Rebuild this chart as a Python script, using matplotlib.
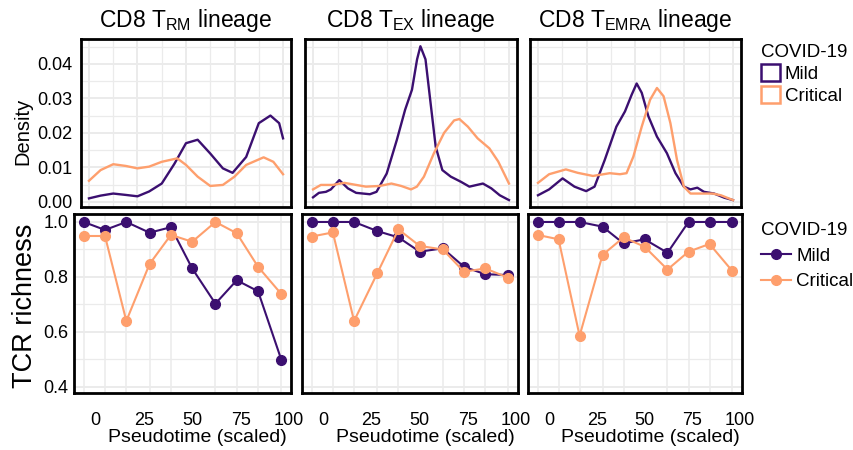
#!/usr/bin/env python3
"""
TCR density and richness along pseudotime for three CD8 lineages
"""
import numpy as np
import matplotlib
matplotlib.use('Agg')
import matplotlib.pyplot as plt
from matplotlib.patches import Patch
from matplotlib.lines import Line2D

plt.rcParams['font.family'] = ['Liberation Sans', 'DejaVu Sans']
plt.rcParams['mathtext.fontset'] = 'custom'
plt.rcParams['mathtext.rm'] = 'Liberation Sans'
plt.rcParams['mathtext.it'] = 'Liberation Sans'

MILD_COLOR = '#3B0F70'
CRIT_COLOR = '#FE9F6D'
GRID_COLOR = '#ebebeb'

titles = ['CD8 T$_{\\mathrm{RM}}$ lineage', 'CD8 T$_{\\mathrm{EX}}$ lineage', 'CD8 T$_{\\mathrm{EMRA}}$ lineage']
groups = ['Mild', 'Critical']

# density curves (pseudotime, density)
rm_mild_x = [0, 6, 12.5, 19, 25, 31, 37.5, 44, 50, 56, 62.5, 69, 74, 81, 87.5, 93.5, 98, 100]
rm_mild_y = [0.0010, 0.0018, 0.0024, 0.0020, 0.0016, 0.0030, 0.0053, 0.0110, 0.0170, 0.0180, 0.0140, 0.0097, 0.0084, 0.0130, 0.0228, 0.0250, 0.0228, 0.0184]
rm_crit_x = [0, 6, 12.5, 19, 25, 31, 37.5, 45.5, 50, 56, 62.5, 69, 75, 81, 90, 95, 100]
rm_crit_y = [0.0061, 0.0092, 0.0109, 0.0104, 0.0097, 0.0102, 0.0116, 0.0126, 0.0107, 0.0073, 0.0046, 0.0049, 0.0073, 0.0107, 0.0129, 0.0116, 0.0080]

ex_mild_x = [0, 3, 6.6, 9.1, 13.4, 17.8, 22, 29, 32.4, 37.6, 42.8, 47, 50.5, 53.1, 54.8, 57.4, 60, 62.6, 66, 70.3, 75.5, 79.8, 86.7, 91, 95.3, 100]
ex_mild_y = [0.0013, 0.0026, 0.0029, 0.0036, 0.0063, 0.0039, 0.0026, 0.0022, 0.0029, 0.0082, 0.0180, 0.0267, 0.0325, 0.0413, 0.0451, 0.0413, 0.0286, 0.0160, 0.0092, 0.0073, 0.0058, 0.0044, 0.0053, 0.0039, 0.0019, 0.0005]
ex_crit_x = [0, 4, 10, 16, 22, 27, 34, 40, 45, 50, 53, 56.6, 61.7, 66.9, 72, 74.7, 79, 84, 90, 94.5, 100]
ex_crit_y = [0.0036, 0.0049, 0.0049, 0.0055, 0.0049, 0.0044, 0.0046, 0.0053, 0.0046, 0.0036, 0.0044, 0.0073, 0.0141, 0.0200, 0.0236, 0.0240, 0.0218, 0.0184, 0.0155, 0.0117, 0.0053]

emra_mild_x = [0, 5.7, 12.6, 18.7, 24.7, 29, 34.2, 40.2, 44.6, 48, 50.6, 53.2, 56.6, 61, 66.1, 70.5, 74.8, 78.2, 81.7, 85.1, 90.3, 95.5, 100]
emra_mild_y = [0.0019, 0.0036, 0.0068, 0.0044, 0.0031, 0.0044, 0.0121, 0.0218, 0.0262, 0.0310, 0.0343, 0.0316, 0.0248, 0.0189, 0.0141, 0.0083, 0.0044, 0.0036, 0.0041, 0.0029, 0.0024, 0.0012, 0.0005]
emra_crit_x = [0, 5.7, 14.3, 20.4, 28.2, 36.8, 42, 45.4, 48.9, 53.2, 57.5, 61, 64.4, 67.9, 71.3, 74.8, 78.2, 83.4, 89.5, 93.8, 100]
emra_crit_y = [0.0055, 0.0080, 0.0094, 0.0084, 0.0075, 0.0083, 0.0080, 0.0083, 0.0131, 0.0218, 0.0296, 0.0330, 0.0306, 0.0228, 0.0121, 0.0044, 0.0024, 0.0024, 0.0024, 0.0019, 0.0005]

density = [
    ((rm_mild_x, rm_mild_y), (rm_crit_x, rm_crit_y)),
    ((ex_mild_x, ex_mild_y), (ex_crit_x, ex_crit_y)),
    ((emra_mild_x, emra_mild_y), (emra_crit_x, emra_crit_y)),
]

# TCR richness per pseudotime bin
bin_pos = [-6, 5, 16, 28, 39, 50, 62, 73, 84, 96]
rm_mild_rich = [1.00, 0.971, 1.00, 0.961, 0.981, 0.831, 0.703, 0.788, 0.748, 0.499]
rm_crit_rich = [0.949, 0.949, 0.640, 0.847, 0.953, 0.928, 1.00, 0.959, 0.837, 0.738]
ex_mild_rich = [1.00, 1.00, 1.00, 0.967, 0.944, 0.892, 0.904, 0.837, 0.810, 0.807]
ex_crit_rich = [0.947, 0.962, 0.640, 0.813, 0.973, 0.913, 0.900, 0.819, 0.831, 0.797]
emra_mild_rich = [1.00, 1.00, 1.00, 0.983, 0.922, 0.937, 0.888, 1.00, 1.00, 1.00]
emra_crit_rich = [0.953, 0.937, 0.586, 0.880, 0.944, 0.910, 0.827, 0.892, 0.920, 0.821]

richness = [
    (rm_mild_rich, rm_crit_rich),
    (ex_mild_rich, ex_crit_rich),
    (emra_mild_rich, emra_crit_rich),
]

x_ticks = [0, 25, 50, 75, 100]

W, H = 854, 450
fig = plt.figure(figsize=(W / 100, H / 100), dpi=100)


def px_axes(x0, y0, x1, y1):
    return fig.add_axes([x0 / W, 1 - y1 / H, (x1 - x0) / W, (y1 - y0) / H])


def style_frame(ax):
    for s in ax.spines.values():
        s.set_linewidth(2.0)
        s.set_color('black')
    ax.set_facecolor('white')
    ax.set_axisbelow(True)
    ax.tick_params(which='both', length=0, labelsize=13, colors='black')


top_boxes = [(81, 39, 291, 207), (305, 39, 517, 207), (530, 39, 741, 207)]
bot_boxes = [(74, 214, 291, 393), (302, 214, 518, 393), (528, 214, 742, 393)]

for i in range(3):
    # density panel
    ax = px_axes(*top_boxes[i])
    style_frame(ax)
    (mx, my), (cx, cy) = density[i]
    ax.plot(mx, my, color=MILD_COLOR, lw=1.7, solid_joinstyle='round')
    ax.plot(cx, cy, color=CRIT_COLOR, lw=1.7, solid_joinstyle='round')
    ax.set_xlim(-4.1, 104.1)
    ax.set_ylim(-0.0015, 0.0472)
    ax.set_xticks(x_ticks)
    ax.set_xticks([12.5, 37.5, 62.5, 87.5], minor=True)
    ax.set_yticks([0, 0.01, 0.02, 0.03, 0.04])
    ax.set_yticks([0.005, 0.015, 0.025, 0.035, 0.045], minor=True)
    ax.grid(True, which='major', color=GRID_COLOR, lw=1.4)
    ax.grid(True, which='minor', color=GRID_COLOR, lw=0.9)
    ax.set_xticklabels([])
    if i == 0:
        ax.set_yticklabels(['0.00', '0.01', '0.02', '0.03', '0.04'])
        ax.tick_params(axis='y', pad=6)
    else:
        ax.set_yticklabels([])
    cx_px = (top_boxes[i][0] + top_boxes[i][2]) / 2
    fig.text(cx_px / W, 1 - 21 / H, titles[i], ha='center', va='center', fontsize=16.5)

    # richness panel
    ax2 = px_axes(*bot_boxes[i])
    style_frame(ax2)
    m_r, c_r = richness[i]
    ax2.plot(bin_pos, m_r, color=MILD_COLOR, lw=1.5, marker='o', ms=7)
    ax2.plot(bin_pos, c_r, color=CRIT_COLOR, lw=1.5, marker='o', ms=7)
    ax2.set_xlim(-11, 101)
    ax2.set_ylim(0.378, 1.029)
    ax2.set_xticks(x_ticks)
    ax2.set_xticks(bin_pos, minor=True)
    ax2.set_yticks([0.4, 0.6, 0.8, 1.0])
    ax2.set_yticks([0.5, 0.7, 0.9], minor=True)
    ax2.grid(True, axis='y', which='major', color=GRID_COLOR, lw=1.4)
    ax2.grid(True, axis='y', which='minor', color=GRID_COLOR, lw=0.9)
    ax2.grid(True, axis='x', which='minor', color=GRID_COLOR, lw=1.1)
    ax2.tick_params(axis='x', pad=14)
    if i == 0:
        ax2.set_yticklabels(['0.4', '0.6', '0.8', '1.0'])
        ax2.tick_params(axis='y', pad=4)
    else:
        ax2.set_yticklabels([])
    bx = (bot_boxes[i][0] + bot_boxes[i][2]) / 2 + 15
    fig.text(bx / W, 1 - 438 / H, 'Pseudotime (scaled)', ha='center', va='center', fontsize=14)

fig.text(23 / W, 1 - 131 / H, 'Density', rotation=90, ha='center', va='center', fontsize=14.5)
fig.text(25 / W, 1 - 306 / H, 'TCR richness', rotation=90, ha='center', va='center', fontsize=19.5)

# legends
top_handles = [Patch(facecolor='white', edgecolor=MILD_COLOR, lw=1.8),
               Patch(facecolor='white', edgecolor=CRIT_COLOR, lw=1.8)]
fig.legend(top_handles, groups, title='COVID-19', loc='upper left',
           bbox_to_anchor=(752 / W, 1 - 35 / H), frameon=False, fontsize=13.5,
           title_fontsize=13.5, handlelength=1.0, handleheight=1.0, handletextpad=0.25,
           labelspacing=0.15, borderpad=0, alignment='left')

bot_handles = [Line2D([], [], color=MILD_COLOR, lw=1.5, marker='o', ms=7),
               Line2D([], [], color=CRIT_COLOR, lw=1.5, marker='o', ms=7)]
fig.legend(bot_handles, groups, title='COVID-19', loc='upper left',
           bbox_to_anchor=(752 / W, 1 - 213 / H), frameon=False, fontsize=13.5,
           title_fontsize=13.5, handlelength=1.6, handletextpad=0.25,
           labelspacing=0.45, borderpad=0, alignment='left')

fig.savefig('out.png', dpi=100)
